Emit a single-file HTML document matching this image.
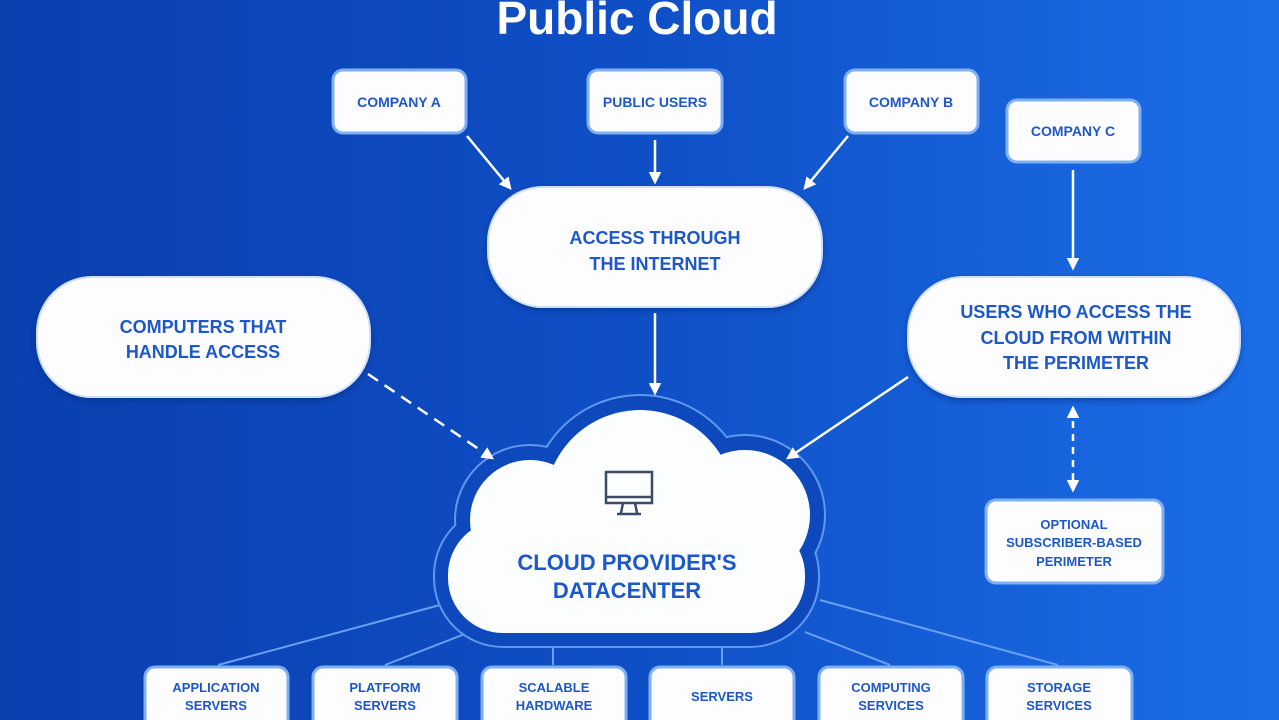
<!DOCTYPE html>
<html><head><meta charset="utf-8"><style>
html,body{margin:0;padding:0;width:1279px;height:720px;overflow:hidden}
svg{display:block}
text{font-family:"Liberation Sans",sans-serif;font-weight:bold;fill:#1d58c8;text-anchor:middle}
</style></head><body>
<svg width="1279" height="720" viewBox="0 0 1279 720">
<defs>
<linearGradient id="bg" x1="0" y1="0" x2="1" y2="0">
<stop offset="0" stop-color="#0a3fae"/><stop offset="0.5" stop-color="#0f4fc6"/><stop offset="1" stop-color="#1b6ee8"/>
</linearGradient>
<marker id="ah" viewBox="0 0 10 10" refX="8" refY="5" markerWidth="5" markerHeight="5" orient="auto-start-reverse"><path d="M0,0 L10,5 L0,10 Z" fill="#fff"/></marker>
<filter id="sh" x="-10%" y="-10%" width="120%" height="130%"><feDropShadow dx="0" dy="3" stdDeviation="3" flood-color="#062a7a" flood-opacity="0.5"/></filter>
</defs>
<rect width="1279" height="720" fill="url(#bg)"/>
<text x="637" y="34" font-size="46" style="fill:#fff">Public Cloud</text>

<g stroke="#6aa0f0" stroke-width="2" fill="none">
<line x1="440" y1="605" x2="218" y2="665"/>
<line x1="470" y1="632" x2="385" y2="665"/>
<line x1="553" y1="645" x2="553" y2="665"/>
<line x1="722" y1="645" x2="722" y2="665"/>
<line x1="805" y1="632" x2="890" y2="665"/>
<line x1="820" y1="600" x2="1058" y2="665"/>
</g>

<!-- cloud -->
<g fill="#5f98ee">
<rect x="433" y="505" width="387" height="143" rx="70"/>
<circle cx="530" cy="520" r="76"/><circle cx="640" cy="505" r="111"/><circle cx="745" cy="515" r="81"/>
</g>
<g fill="#0d49bd">
<rect x="435" y="507" width="383" height="139" rx="68"/>
<circle cx="530" cy="520" r="74"/><circle cx="640" cy="505" r="109"/><circle cx="745" cy="515" r="79"/>
</g>
<g fill="#fcfdff">
<rect x="448" y="520" width="357" height="113" rx="55"/>
<circle cx="530" cy="520" r="60"/><circle cx="640" cy="505" r="95"/><circle cx="745" cy="515" r="65"/>
</g>
<g stroke="#3a4a66" stroke-width="2.5" fill="none">
<rect x="606" y="472" width="46" height="31"/>
<line x1="606" y1="497" x2="652" y2="497"/>
<path d="M623,503 L621,513 M635,503 L637,513 M617,514 L641,514"/>
</g>
<text x="627" y="570" font-size="22">CLOUD PROVIDER'S</text>
<text x="627" y="598" font-size="22">DATACENTER</text>

<!-- connectors -->
<g stroke="#fff" stroke-width="2.5" fill="none" marker-end="url(#ah)">
<line x1="467" y1="136" x2="510" y2="188"/>
<line x1="655" y1="140" x2="655" y2="182"/>
<line x1="848" y1="136" x2="805" y2="188"/>
<line x1="1073" y1="170" x2="1073" y2="268"/>
<line x1="655" y1="313" x2="655" y2="393"/>
<line x1="908" y1="377" x2="788" y2="458"/>
<line x1="368" y1="374" x2="492" y2="458" stroke-dasharray="12,8"/>
<line x1="1073" y1="408" x2="1073" y2="490" stroke-dasharray="7,6" marker-start="url(#ah)"/>
</g>

<!-- pills -->
<g fill="#fdfdff" stroke="#cfe0fb" stroke-width="2" filter="url(#sh)">
<rect x="488" y="187" width="334" height="120" rx="55"/>
<rect x="37" y="277" width="333" height="120" rx="55"/>
<rect x="908" y="277" width="332" height="120" rx="55"/>
</g>
<g font-size="18">
<text x="655" y="244">ACCESS THROUGH</text><text x="655" y="270">THE INTERNET</text>
<text x="203" y="333">COMPUTERS THAT</text><text x="203" y="358">HANDLE ACCESS</text>
<text x="1076" y="318">USERS WHO ACCESS THE</text><text x="1076" y="344">CLOUD FROM WITHIN</text><text x="1076" y="369">THE PERIMETER</text>
</g>

<!-- boxes -->
<g fill="#fdfdff" stroke="#7fb0f5" stroke-width="3">
<rect x="333" y="70" width="133" height="63" rx="10"/>
<rect x="588" y="70" width="134" height="63" rx="10"/>
<rect x="845" y="70" width="133" height="63" rx="10"/>
<rect x="1007" y="100" width="133" height="62" rx="10"/>
<rect x="986" y="500" width="177" height="83" rx="10"/>
<rect x="145" y="667" width="143" height="62" rx="10"/>
<rect x="313" y="667" width="144" height="62" rx="10"/>
<rect x="482" y="667" width="144" height="62" rx="10"/>
<rect x="650" y="667" width="144" height="62" rx="10"/>
<rect x="819" y="667" width="144" height="62" rx="10"/>
<rect x="987" y="667" width="145" height="62" rx="10"/>
</g>
<g font-size="14">
<text x="399" y="107">COMPANY A</text>
<text x="655" y="107">PUBLIC USERS</text>
<text x="911" y="107">COMPANY B</text>
<text x="1073" y="136">COMPANY C</text>
</g>
<g font-size="13">
<text x="1074" y="529">OPTIONAL</text><text x="1074" y="547">SUBSCRIBER-BASED</text><text x="1074" y="566">PERIMETER</text>
<text x="216" y="692">APPLICATION</text><text x="216" y="710">SERVERS</text>
<text x="385" y="692">PLATFORM</text><text x="385" y="710">SERVERS</text>
<text x="554" y="692">SCALABLE</text><text x="554" y="710">HARDWARE</text>
<text x="722" y="701">SERVERS</text>
<text x="891" y="692">COMPUTING</text><text x="891" y="710">SERVICES</text>
<text x="1059" y="692">STORAGE</text><text x="1059" y="710">SERVICES</text>
</g>
</svg>
</body></html>
